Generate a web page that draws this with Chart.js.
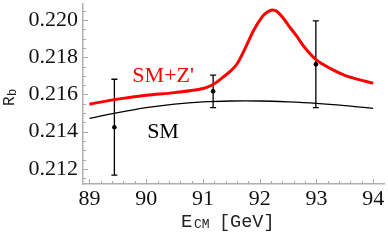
<!DOCTYPE html>
<html>
<head>
<meta charset="utf-8">
<script src="https://cdn.jsdelivr.net/npm/chart.js@4.4.0/dist/chart.umd.min.js"></script>
<style>
  html, body { margin: 0; padding: 0; background: #fff; }
</style>
</head>
<body>
<canvas id="rbChart" width="388" height="241"></canvas>
<script>
// --- Values ---
const xTicks = [89, 90, 91, 92, 93, 94];
const yTicks = [0.212, 0.214, 0.216, 0.218, 0.220];

// SM prediction (black)
const smEnergy = [89.0, 89.5, 90.0, 90.5, 91.0, 91.5, 92.0, 92.5, 93.0, 93.5, 94.0];
const smRb = [0.21471, 0.21502, 0.21529, 0.21548, 0.21560, 0.21565, 0.21565, 0.21560, 0.21552, 0.21540, 0.21525];

// SM + Z' prediction (red)
const zpEnergy = [89.0, 89.5, 90.0, 90.5, 91.0, 91.2, 91.35, 91.5, 91.6, 91.75, 91.9, 92.05, 92.15, 92.22, 92.3, 92.4, 92.5, 92.65, 92.8, 93.0, 93.25, 93.5, 93.75, 94.0];
const zpRb = [0.21548, 0.21575, 0.21596, 0.21610, 0.21632, 0.21658, 0.21692, 0.21730, 0.21764, 0.21852, 0.21948, 0.22020, 0.22046, 0.22055, 0.22048, 0.22017, 0.21975, 0.21915, 0.21850, 0.21786, 0.21739, 0.21703, 0.21680, 0.21661];

// measurements with error bars
const dataEnergy = [89.44, 91.18, 92.99];
const dataRb = [0.21424, 0.21617, 0.21762];
const dataLow = [0.21166, 0.21529, 0.21529];
const dataHigh = [0.21682, 0.21704, 0.21996];

const toXY = (xs, ys) => xs.map((x, i) => ({ x: x, y: ys[i] }));

const serif = "'Liberation Serif', 'Times New Roman', serif";
const mono = "'Liberation Mono', 'Courier New', monospace";

// --- Plugins ---
const errorBars = {
  id: "errorBars",
  beforeDatasetsDraw(chart) {
    const { ctx, scales: { x, y } } = chart;
    ctx.save();
    ctx.strokeStyle = "#000";
    ctx.lineWidth = 1.3;
    dataEnergy.forEach((e, i) => {
      const px = x.getPixelForValue(e);
      const top = y.getPixelForValue(dataHigh[i]);
      const bot = y.getPixelForValue(dataLow[i]);
      ctx.beginPath();
      ctx.moveTo(px, top); ctx.lineTo(px, bot);
      ctx.moveTo(px - 3, top); ctx.lineTo(px + 3, top);
      ctx.moveTo(px - 3, bot); ctx.lineTo(px + 3, bot);
      ctx.stroke();
    });
    ctx.restore();
  },
};

// tick marks pointing into the plot, with minor ticks
const inwardTicks = {
  id: "inwardTicks",
  afterDraw(chart) {
    const { ctx, chartArea: a, scales: { x, y } } = chart;
    ctx.save();
    ctx.strokeStyle = "#a8a8a8";
    ctx.lineWidth = 1;
    ctx.beginPath();
    for (let k = Math.ceil(x.min * 5); k <= Math.floor(x.max * 5); k++) {
      const px = Math.round(x.getPixelForValue(k / 5)) + 0.5;
      const len = k % 5 === 0 ? 5 : 3;
      ctx.moveTo(px, a.bottom); ctx.lineTo(px, a.bottom - len);
    }
    for (let k = Math.ceil(y.min * 2000); k <= Math.floor(y.max * 2000); k++) {
      const py = Math.round(y.getPixelForValue(k / 2000)) + 0.5;
      const len = k % 4 === 0 ? 5 : 3;
      ctx.moveTo(a.left, py); ctx.lineTo(a.left + len, py);
    }
    ctx.stroke();
    ctx.restore();
  },
};

const textLabels = {
  id: "textLabels",
  afterDraw(chart) {
    const { ctx, scales: { x, y } } = chart;
    ctx.save();
    ctx.textBaseline = "alphabetic";
    ctx.textAlign = "left";

    // curve labels
    ctx.font = "22px " + serif;
    ctx.fillStyle = "#ff0000";
    ctx.fillText("SM+Z'", x.getPixelForValue(89.757), y.getPixelForValue(0.21666));
    ctx.fillStyle = "#000";
    ctx.fillText("SM", x.getPixelForValue(90.017), y.getPixelForValue(0.21366));

    // x axis title: E_CM [GeV]
    ctx.fillStyle = "#222";
    ctx.font = "19px " + mono;
    ctx.fillText("E", 181, 227);
    ctx.font = "13px " + mono;
    ctx.fillText("CM", 194, 228);
    ctx.font = "18.5px " + mono;
    ctx.fillText("[GeV]", 219, 227);

    // y axis title: R_b
    ctx.translate(14, 106);
    ctx.rotate(-Math.PI / 2);
    ctx.font = "16px " + mono;
    ctx.fillText("R", 0, 0);
    ctx.font = "12px " + mono;
    ctx.fillText("b", 10, 2);
    ctx.restore();
  },
};

// --- Chart ---
const ctx = document.getElementById("rbChart").getContext("2d");
new Chart(ctx, {
  type: "scatter",
  data: {
    datasets: [
      {
        label: "SM",
        data: toXY(smEnergy, smRb),
        showLine: true,
        borderColor: "#000",
        borderWidth: 1.3,
        pointRadius: 0,
        tension: 0.35,
      },
      {
        label: "SM+Z'",
        data: toXY(zpEnergy, zpRb),
        showLine: true,
        borderColor: "#ff0000",
        borderWidth: 3,
        pointRadius: 0,
        tension: 0.35,
      },
      {
        label: "data",
        data: toXY(dataEnergy, dataRb),
        backgroundColor: "#000",
        borderColor: "#000",
        pointRadius: 2.3,
        borderWidth: 0,
      },
    ],
  },
  options: {
    responsive: false,
    animation: false,
    devicePixelRatio: 1,
    layout: { padding: 0 },
    plugins: { legend: { display: false }, tooltip: { enabled: false } },
    scales: {
      x: {
        type: "linear",
        min: 88.887,
        max: 94.191,
        afterBuildTicks: (s) => { s.ticks = xTicks.map((v) => ({ value: v })); },
        afterFit: (s) => { s.height = 57; s.paddingLeft = 0; s.paddingRight = 0; },
        grid: { drawOnChartArea: false, drawTicks: false },
        border: { color: "#b0b0b0", width: 1.5 },
        ticks: {
          padding: 2,
          color: "#111",
          autoSkip: false,
          maxRotation: 0,
          font: { family: serif, size: 22 },
          callback: (v) => String(v),
        },
      },
      y: {
        type: "linear",
        min: 0.211184,
        max: 0.220868,
        afterBuildTicks: (s) => { s.ticks = yTicks.map((v) => ({ value: v })); },
        afterFit: (s) => { s.width = 83; s.paddingTop = 0; s.paddingBottom = 0; },
        grid: { drawOnChartArea: false, drawTicks: false },
        border: { color: "#b0b0b0", width: 1.5 },
        ticks: {
          padding: 5,
          color: "#111",
          font: { family: serif, size: 22 },
          callback: (v) => v.toFixed(3),
        },
      },
    },
  },
  plugins: [errorBars, inwardTicks, textLabels],
});
</script>
</body>
</html>
